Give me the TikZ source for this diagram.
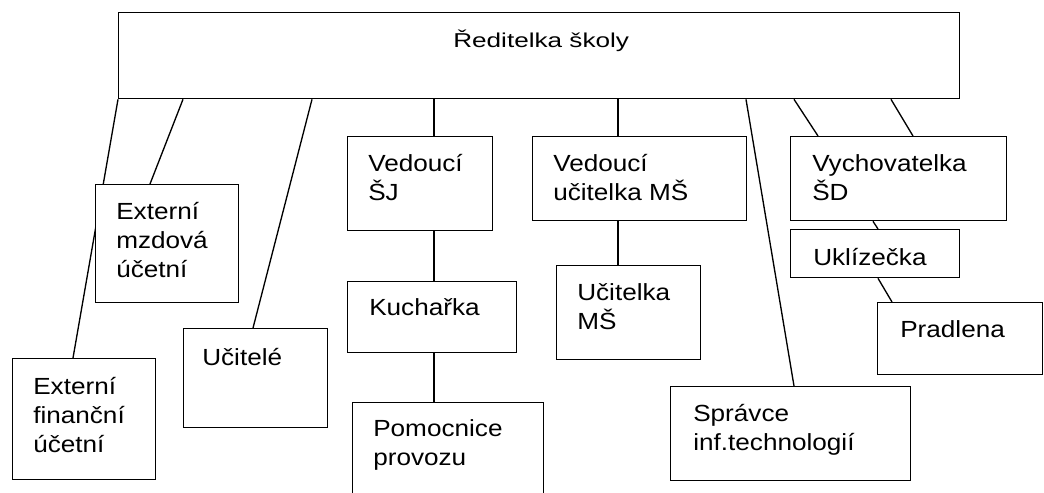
\documentclass[tikz,border=0pt]{standalone}
\usepackage{fontspec}
\setmainfont[FakeStretch=1.12]{Liberation Sans}
\usepackage{graphicx}
\usepackage{tikz}
\usetikzlibrary{calc,backgrounds}

\begin{document}
\begin{tikzpicture}[x=0.75pt,y=-0.75pt,
    box/.style 2 args={draw, line width=1pt, fill=white, anchor=north west, inner sep=0pt,
        minimum width=#1*0.75pt, minimum height=#2*0.75pt},
    lbl/.style={anchor=base west, align=left, inner sep=0pt, font=\fontsize{17.5}{21.4}\selectfont},
    link/.style={line width=1pt}]
    \useasboundingbox (0,0) rectangle (1044,492);
    \clip (0,0) rectangle (1044,492);

    % Head of the school
    \node[box={841}{86}] (ceo) at (118,12) {};
    \node[lbl, anchor=base] (ceo-t) at ($(ceo.north)+(2,36)$) {\scalebox{1}[0.86]{Ředitelka školy}};

    % Boxes under the head
    \node[box={143}{118}] (mzd) at (95,184) {};
    \node[box={143}{121}] (fin) at (12,358) {};
    \node[box={144}{99}] (uci) at (183,328) {};
    \node[box={145}{94}] (sj) at (347,136) {};
    \node[box={169}{71}] (kuch) at (347,281) {};
    \node[box={191}{118}] (pom) at (352,402) {};
    \node[box={214}{84}] (vms) at (532,136) {};
    \node[box={144}{94}] (ums) at (556,265) {};
    \node[box={240}{94}] (spr) at (670,386) {};
    \node[box={216}{84}] (vych) at (790,136) {};
    \node[box={169}{48}] (ukl) at (790,229) {};
    \node[box={165}{72}] (prad) at (877,302) {};

    % Texts (base = last line)
    \node[lbl] (mzd-t) at ($(mzd.north west)+(21,93)$) {Externí\\mzdová\\účetní};
    \node[lbl] (fin-t) at ($(fin.north west)+(21,94)$) {Externí\\finanční\\účetní};
    \node[lbl] (uci-t) at ($(uci.north west)+(19,37)$) {Učitelé};
    \node[lbl] (sj-t) at ($(sj.north west)+(21,64.5)$) {Vedoucí\\ŠJ};
    \node[lbl] (kuch-t) at ($(kuch.north west)+(22,34)$) {Kuchařka};
    \node[lbl] (pom-t) at ($(pom.north west)+(21,63.5)$) {Pomocnice\\provozu};
    \node[lbl] (vms-t) at ($(vms.north west)+(21,64.5)$) {Vedoucí\\učitelka MŠ};
    \node[lbl] (ums-t) at ($(ums.north west)+(21,64.5)$) {Učitelka\\MŠ};
    \node[lbl] (spr-t) at ($(spr.north west)+(23,64.5)$) {Správce\\inf.technologií};
    \node[lbl] (vych-t) at ($(vych.north west)+(22,64.5)$) {Vychovatelka\\ŠD};
    \node[lbl] (ukl-t) at ($(ukl.north west)+(23,36)$) {Uklízečka};
    \node[lbl] (prad-t) at ($(prad.north west)+(23,35)$) {Pradlena};

    % Connectors (behind the boxes)
    \begin{pgfonlayer}{background}
        \draw[link] (ceo.south west) -- ($(fin.north west)+(61,0)$);
        \draw[link] ($(ceo.south west)+(65,0)$) -- ($(mzd.north west)+(55,0)$);
        \draw[link] ($(ceo.south west)+(194,0)$) -- ($(uci.north west)+(70,0)$);
        \draw[link] ($(ceo.south west)+(316,0)$) -- ($(sj.north west)+(87,0)$);
        \draw[link] ($(ceo.south west)+(500,0)$) -- ($(vms.north west)+(86,0)$);
        \draw[link] ($(ceo.south west)+(628,0)$) -- ($(spr.north west)+(124,0)$);
        \draw[link] ($(ceo.south west)+(676,0)$) -- ($(vych.north west)+(28,0)$);
        \draw[link] ($(ceo.south west)+(773,0)$) -- ($(vych.north west)+(123,0)$);
        \draw[link] ($(sj.south west)+(87,0)$) -- ($(kuch.north west)+(87,0)$);
        \draw[link] ($(kuch.south west)+(87,0)$) -- ($(pom.north west)+(82,0)$);
        \draw[link] ($(vms.south west)+(86,0)$) -- ($(ums.north west)+(62,0)$);
        \draw[link] ($(vych.south west)+(83,0)$) -- ($(ukl.north west)+(88,0)$);
        \draw[link] ($(ukl.south west)+(88,0)$) -- ($(prad.north west)+(15,0)$);
    \end{pgfonlayer}
\end{tikzpicture}
\end{document}
